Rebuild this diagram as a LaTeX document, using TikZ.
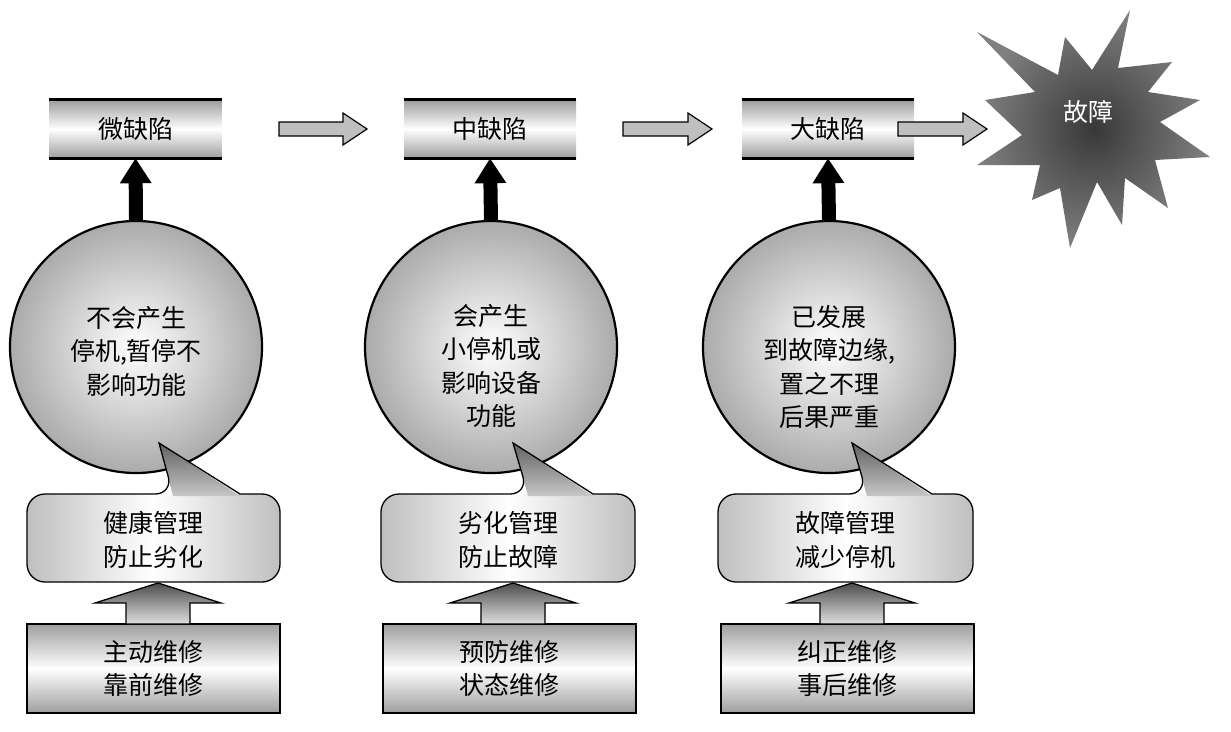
\documentclass[tikz,border=0pt]{standalone}
\usepackage{fontspec}
\newfontfamily\cjk{Noto Sans CJK SC}
\usetikzlibrary{calc,arrows.meta}
\tikzset{
  txt/.style={font=\cjk\fontsize{25}{33.5}\selectfont, align=center, inner sep=0pt},
  topbox/.style={rectangle, minimum width=172pt, minimum height=58pt, inner sep=0pt,
    top color=black!38, bottom color=black!38, middle color=white, txt},
  topline/.style={line width=3pt},
  ball/.style={circle, minimum size=252pt, inner sep=0pt, draw, line width=2.2pt,
    inner color=white, outer color=black!33},
  blackarrow/.style={line width=14pt, -{Triangle[width=30pt,length=25pt]}},
  grayarrow/.style={draw, line width=1.2pt, fill=black!25},
  calloutbody/.style={left color=black!25, right color=black!25, middle color=white},
  calloutptr/.style={top color=black!62, bottom color=black!22},
  calloutline/.style={draw, line width=1.3pt},
  basebox/.style={rectangle, minimum width=253pt, minimum height=89pt, inner sep=0pt,
    draw, line width=1.4pt, top color=black!38, bottom color=black!38, middle color=white, txt},
  uparrow/.style={draw, line width=1.3pt, top color=black!70, bottom color=black!12},
  star/.style={inner color=black!78, outer color=black!50},
}
\begin{document}
\begin{tikzpicture}[x=1pt,y=-1pt]
\useasboundingbox (0,0) rectangle (1231,731);
\fill[white] (0,0) rectangle (1231,731);

% failure star
\shade[star] (1130,10) -- (1118,68) -- (1172,62) -- (1148,92) -- (1200,100) -- (1160,122)
  -- (1210,157) -- (1155,160) -- (1168,208) -- (1125,178) -- (1122,225) -- (1097,182)
  -- (1070,248) -- (1060,188) -- (1032,200) -- (1040,165) -- (977,165) -- (1022,135)
  -- (985,100) -- (1035,92) -- (977,32) -- (1058,75) -- (1065,37) -- (1092,70) -- cycle;
\node[txt, text=white] (f) at (1088,112) {故障};

% top boxes
\node[topbox] (b1) at (135.5,129) {微缺陷};
\node[topbox] (b2) at (490,129) {中缺陷};
\node[topbox] (b3) at (828,129) {大缺陷};
\foreach \b in {b1,b2,b3}{
  \draw[topline] (\b.north west) -- (\b.north east);
  \draw[topline] (\b.south west) -- (\b.south east);
}

% gray arrows between boxes
\draw[grayarrow] (279,122) -- (343,122) -- (343,113) -- (367,129) -- (343,145) -- (343,136) -- (279,136) -- cycle;
\draw[grayarrow] (623,122) -- (688,122) -- (688,113) -- (712,129) -- (688,145) -- (688,136) -- (623,136) -- cycle;
\draw[grayarrow] (898,122) -- (963,122) -- (963,113) -- (987,129) -- (963,145) -- (963,136) -- (898,136) -- cycle;

% circles
\node[ball] (c1) at (136,347) {};
\node[ball] (c2) at (491,347) {};
\node[ball] (c3) at (829,347) {};
\node[txt] (t1) at (136,351) {不会产生\\停机,暂停不\\影响功能};
\node[txt] (t2) at (491,366) {会产生\\小停机或\\影响设备\\功能};
\node[txt] (t3) at (829,367) {已发展\\到故障边缘,\\置之不理\\后果严重};

% black arrows
\draw[blackarrow] (c1.north) -- (b1.south);
\draw[blackarrow] (c2.north) -- (b2.south);
\draw[blackarrow] (c3.north) -- (b3.south);

% callouts
\foreach \L/\R/\pa/\pt/\pb in {27/280/173/159/240, 381/635/528/513/593, 718/973/867/852/932}{
  \shade[calloutbody, rounded corners=18pt] (\L,494) rectangle (\R,582);
  \shade[calloutptr] (\pa,496) -- (\pt,443) -- (\pb,496) -- cycle;
  \draw[calloutline] (\L/2+\R/2,582) [rounded corners=18pt] -- (\L,582) -- (\L,494) -- (\pa,494)
    [sharp corners] -- (\pt,443) -- (\pb,494) [rounded corners=18pt] -- (\R,494) -- (\R,582) -- cycle;
}
\node[txt] (k1) at (153.5,540) {健康管理\\防止劣化};
\node[txt] (k2) at (508,540) {劣化管理\\防止故障};
\node[txt] (k3) at (845.5,540) {故障管理\\减少停机};

% base boxes
\node[basebox] (m1) at (153.5,668.5) {主动维修\\靠前维修};
\node[basebox] (m2) at (509.5,668.5) {预防维修\\状态维修};
\node[basebox] (m3) at (847.5,668.5) {纠正维修\\事后维修};

% upward block arrows
\foreach \cx in {158,513,852}{
  \shade[uparrow] (\cx-32,624) -- (\cx-32,603) -- (\cx-63,603) -- (\cx,583) -- (\cx+63,603)
    -- (\cx+32,603) -- (\cx+32,624) -- cycle;
}
\end{tikzpicture}
\end{document}
